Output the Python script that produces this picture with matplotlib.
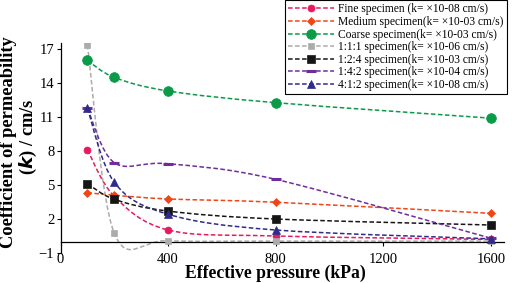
import matplotlib
matplotlib.use("Agg")
import matplotlib.pyplot as plt
from matplotlib.path import Path
from matplotlib.patches import PathPatch
from matplotlib.lines import Line2D
import numpy as np

plt.rcParams['font.family'] = ['Liberation Serif', 'DejaVu Serif']

pressure = [100, 200, 400, 800, 1600]
fine = [8.12, 4.0, 1.03, 0.50, 0.20]
medium = [4.33, 4.10, 3.77, 3.48, 2.50]
coarse = [16.0, 14.5, 13.3, 12.27, 10.9]
mix111 = [17.36, 0.74, 0.09, 0.05, 0.05]
mix124 = [5.12, 3.74, 2.70, 2.00, 1.47]
mix142 = [11.77, 6.97, 6.88, 5.50, 0.30]
mix412 = [11.77, 5.24, 2.42, 1.03, 0.25]

labels = ["Fine specimen (k= \u00d710-08 cm/s)",
          "Medium specimen(k= \u00d710-03 cm/s)",
          "Coarse specimen(k= \u00d710-03 cm/s)",
          "1:1:1 specimen(k= \u00d710-06 cm/s)",
          "1:2:4 specimen(k= \u00d710-03 cm/s)",
          "1:4:2 specimen(k= \u00d710-04 cm/s)",
          "4:1:2 specimen(k= \u00d710-08 cm/s)"]
xticks = [0, 400, 800, 1200, 1600]
yticks = [-1, 2, 5, 8, 11, 14, 17]

series = [fine, medium, coarse, mix111, mix124, mix142, mix412]
colors = ['#E8195E', '#F24515', '#0A9A48', '#ABABAB', '#151515', '#6E2C9C', '#2E2B8C']
markers = ['o', 'D', 'o', 's', 's', '_', '^']
msizes = [5, 4.5, 7, 5, 5.5, 7, 5.5]

fig = plt.figure(figsize=(5.12, 2.83), dpi=100)
ax = fig.add_axes([60.5/512, 1-253/283, (504.4-60.5)/512, (253-43.4)/283])


def smooth_path(xs, ys):
    pts = np.column_stack([xs, ys]).astype(float)
    n = len(pts)
    verts = [pts[0]]
    codes = [Path.MOVETO]
    for i in range(n - 1):
        p0 = pts[i - 1] if i > 0 else pts[i]
        p1 = pts[i]
        p2 = pts[i + 1]
        p3 = pts[i + 2] if i + 2 < n else pts[i + 1]
        c1 = p1 + (p2 - p0) / 6.0
        c2 = p2 - (p3 - p1) / 6.0
        verts += [c1, c2, p2]
        codes += [Path.CURVE4] * 3
    return Path(verts, codes)


handles = []
for ys, c, m, ms, lab in zip(series, colors, markers, msizes, labels):
    patch = PathPatch(smooth_path(pressure, ys), facecolor='none', edgecolor=c,
                      lw=1.1, linestyle=(0, (3, 1.6)), zorder=2)
    ax.add_patch(patch)
    mew = 2.2 if m == '_' else 0.5
    ax.plot(pressure, ys, linestyle='none', marker=m, markersize=ms, color=c,
            markeredgecolor=c, markeredgewidth=mew, zorder=3)
    handles.append(Line2D([], [], color=c, lw=1.1, linestyle=(0, (3, 1.6)),
                          marker=m, markersize=ms, markeredgewidth=mew,
                          markeredgecolor=c, label=lab))

ax.set_xlim(0, 1650)
ax.set_ylim(-1, 17.5)
ax.set_xticks(xticks)
ax.set_yticks(yticks)
ax.spines['top'].set_visible(False)
ax.spines['right'].set_visible(False)
ax.spines['bottom'].set_position(('data', 0))
for s in ['left', 'bottom']:
    ax.spines[s].set_linewidth(0.9)
ax.tick_params(axis='x', direction='out', length=3, width=0.8, pad=5, labelsize=10.5)
ax.tick_params(axis='y', direction='out', length=3, width=0.8, pad=1.5, labelsize=10.5)

fig.text(275/512, 0.5/283, "Effective pressure (kPa)", ha='center', va='bottom',
         fontsize=12.7, fontweight='bold')
fig.text(8.5/512, 1-142/283, "Coefficient of permeability", rotation=90,
         ha='center', va='center', fontsize=13.3, fontweight='bold')
fig.text(28/512, 1-137/283, "($\\boldsymbol{k}$) / cm/s", rotation=90,
         ha='center', va='center', fontsize=13.3, fontweight='bold')

leg = fig.legend(handles=handles, loc='upper right', bbox_to_anchor=(507/512, 1.0),
                 bbox_transform=fig.transFigure, borderaxespad=0, fontsize=8.3,
                 frameon=True, fancybox=False, edgecolor='black', framealpha=1,
                 handlelength=4.0, handletextpad=0.35, labelspacing=0.05,
                 borderpad=0.3, numpoints=1)
leg.get_frame().set_linewidth(0.8)

fig.savefig("out.png", dpi=100)
